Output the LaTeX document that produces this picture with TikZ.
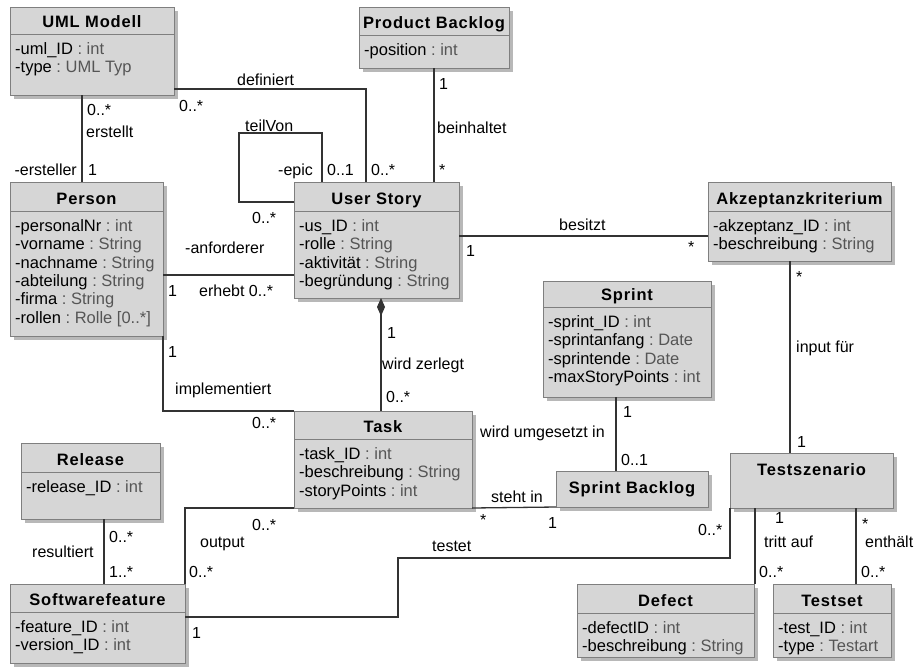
\documentclass[tikz,border=0pt]{standalone}
\usepackage{fontspec}
\setmainfont{Liberation Sans}
\usetikzlibrary{calc,shadows,arrows.meta}
\definecolor{boxfill}{HTML}{D6D6D6}
\definecolor{boxline}{HTML}{7F7F7F}
\definecolor{shadowc}{HTML}{B8B8B8}
\definecolor{linec}{HTML}{333333}
\definecolor{typec}{HTML}{555555}
\newcommand\ua[2]{#1\ \textcolor{typec}{:\ #2}}
\tikzset{
  classbox/.style={rectangle, anchor=north west, draw=boxline, fill=boxfill, line width=0.9pt,
    inner sep=0pt, outer sep=0pt,
    drop shadow={shadow xshift=4pt, shadow yshift=-4pt, fill=shadowc, opacity=1}},
  sepline/.style={draw=boxline, line width=0.9pt},
  classtitle/.style={anchor=base, inner sep=0pt, font=\fontsize{16.5}{18}\selectfont\bfseries\addfontfeature{LetterSpace=5}},
  attrtext/.style={anchor=base west, inner sep=0pt, font=\fontsize{16.5}{18}\selectfont},
  lbl/.style={anchor=base west, inner sep=0pt, font=\fontsize{16}{18}\selectfont},
  conn/.style={draw=linec, line width=1.3pt},
  connv/.style={draw=linec, line width=2pt},
}
\newcommand\umlclass[8]{%
  \node[classbox, minimum width={(#4-#2)*1pt}, minimum height={(#5-#3)*1pt}] (#1) at (#2,#3) {};
  \draw[sepline] ($(#1.north west)+(0,#6)$) -- ($(#1.north east)+(0,#6)$);
  \node[classtitle] (#1-title) at ($(#1.north)+(0,#6-7)$) {#7};
  \foreach \a [count=\i] in {#8} {
    \node[attrtext] (#1-a\i) at ($(#1.north west)+(5,#6+20.5+18.3*\i-18.3)$) {\a};
  }%
}
\begin{document}
\begin{tikzpicture}[x=1pt, y=-1pt]
\useasboundingbox[fill=white] (0,0) rectangle (917,667);

% classes
\umlclass{uml}{10}{7}{174}{95}{27}{UML Modell}{{\ua{-uml\_ID}{int}},{\ua{-type}{UML Typ}}}
\umlclass{pb}{359}{7}{509}{68}{28}{Product Backlog}{{\ua{-position}{int}}}
\umlclass{person}{10}{182}{163}{336}{29}{Person}{{\ua{-personalNr}{int}},{\ua{-vorname}{String}},{\ua{-nachname}{String}},{\ua{-abteilung}{String}},{\ua{-firma}{String}},{\ua{-rollen}{Rolle [0..*]}}}
\umlclass{us}{294}{182}{459}{298}{29}{User Story}{{\ua{-us\_ID}{int}},{\ua{-rolle}{String}},{\ua{-aktivität}{String}},{\ua{-begründung}{String}}}
\umlclass{ak}{708}{182}{891}{261}{29}{Akzeptanzkriterium}{{\ua{-akzeptanz\_ID}{int}},{\ua{-beschreibung}{String}}}
\umlclass{sprint}{543}{281}{711}{397}{26}{Sprint}{{\ua{-sprint\_ID}{int}},{\ua{-sprintanfang}{Date}},{\ua{-sprintende}{Date}},{\ua{-maxStoryPoints}{int}}}
\umlclass{task}{294}{411}{472}{508}{28}{Task}{{\ua{-task\_ID}{int}},{\ua{-beschreibung}{String}},{\ua{-storyPoints}{int}}}
\umlclass{release}{21}{443}{160}{519}{29}{Release}{{\ua{-release\_ID}{int}}}
\umlclass{sf}{10}{584}{185}{663}{28}{Softwarefeature}{{\ua{-feature\_ID}{int}},{\ua{-version\_ID}{int}}}
\umlclass{defect}{577}{584}{754}{657}{29}{Defect}{{\ua{-defectID}{int}},{\ua{-beschreibung}{String}}}
\umlclass{testset}{773}{584}{891}{657}{29}{Testset}{{\ua{-test\_ID}{int}},{\ua{-type}{Testart}}}

\node[classbox, minimum width=152pt, minimum height=36pt] (sb) at (556,471) {};
\node[classtitle] (sb-title) at ($(sb.north)+(0,22)$) {Sprint Backlog};
\node[classbox, minimum width=163pt, minimum height=55pt] (ts) at (730,453) {};
\node[classtitle] (ts-title) at ($(ts.north)+(0,22)$) {Testszenario};

% connectors
\draw[connv] (uml.south -| 82,0) -- (person.north -| 82,0);
\coordinate (def1) at (366,89);
\draw[conn] (uml.east |- def1) -- (def1) -- (us.north -| def1);
\draw[connv] (pb.south -| 434,0) -- (us.north -| 434,0);
\coordinate (loop1) at (239,202);
\coordinate (loop2) at (322,133);
\draw[conn] (us.west |- loop1) -- (loop1) |- (loop2) -- (us.north -| loop2);
\draw[conn] (person.east |- 0,275) -- (us.west |- 0,275);
\draw[conn] (person.south east) |- (task.north west);
\draw[connv, {Diamond[width=8pt,length=18pt,fill=linec]}-] (us.south -| 381,0) -- (task.north -| 381,0);
\draw[conn] (us.east |- 0,236) -- (ak.west |- 0,236);
\draw[connv] (ak.south -| 790,0) -- (ts.north -| 790,0);
\draw[connv] (sprint.south -| 616,0) -- (sb.north -| 616,0);
\draw[conn] (task.south east) -- (sb.south west);
\draw[conn] (task.south west) -| (sf.north east);
\coordinate (tt1) at (398,617);
\coordinate (tt2) at (398,558);
\draw[conn] (sf.east |- tt1) -- (tt1) -- (tt2) -| (ts.south west);
\draw[connv] (ts.south -| 755,0) -- (defect.north -| 755,0);
\draw[connv] (ts.south -| 856,0) -- (testset.north -| 856,0);
\draw[connv] (release.south -| 104,0) -- (sf.north -| 104,0);

% labels
\node[lbl] (l1) at (87,115) {0..*};
\node[lbl] (l2) at (86,137) {erstellt};
\node[lbl, anchor=base east] (l3) at (77,175) {-ersteller};
\node[lbl] (l4) at (88,175) {1};
\node[lbl] (l5) at (237,85) {definiert};
\node[lbl] (l6) at (179,111) {0..*};
\node[lbl] (l7) at (245,131) {teilVon};
\node[lbl] (l8) at (278,175) {-epic};
\node[lbl] (l9) at (327,175) {0..1};
\node[lbl] (l10) at (371,175) {0..*};
\node[lbl] (l11) at (439,89) {1};
\node[lbl] (l12) at (437,133) {beinhaltet};
\node[lbl] (l13) at (439,175) {*};
\node[lbl] (l14) at (252,223) {0..*};
\node[lbl] (l15) at (185,253) {-anforderer};
\node[lbl] (l16) at (168,296) {1};
\node[lbl] (l17) at (199,296) {erhebt 0..*};
\node[lbl] (l18) at (168,357) {1};
\node[lbl] (l19) at (175,394) {implementiert};
\node[lbl] (l20) at (252,428) {0..*};
\node[lbl] (l21) at (466,256) {1};
\node[lbl] (l22) at (387,338) {1};
\node[lbl] (l23) at (382,369) {wird zerlegt};
\node[lbl] (l24) at (386,402) {0..*};
\node[lbl] (l25) at (559,230) {besitzt};
\node[lbl] (l26) at (688,252) {*};
\node[lbl] (l27) at (796,282) {*};
\node[lbl] (l28) at (796,352) {input für};
\node[lbl] (l29) at (623,417) {1};
\node[lbl] (l30) at (480,437) {wird umgesetzt in};
\node[lbl] (l31) at (621,465) {0..1};
\node[lbl] (l32) at (797,447) {1};
\node[lbl] (l33) at (698,535) {0..*};
\node[lbl] (l34) at (775,523) {1};
\node[lbl] (l35) at (764,547) {tritt auf};
\node[lbl] (l36) at (759,577) {0..*};
\node[lbl] (l37) at (862,529) {*};
\node[lbl] (l38) at (865,547) {enthält};
\node[lbl] (l39) at (861,577) {0..*};
\node[lbl] (l40) at (491,502) {steht in};
\node[lbl] (l41) at (480,525) {*};
\node[lbl] (l42) at (548,528) {1};
\node[lbl] (l43) at (432,551) {testet};
\node[lbl] (l44) at (252,530) {0..*};
\node[lbl] (l45) at (200,547) {output};
\node[lbl] (l46) at (189,577) {0..*};
\node[lbl] (l47) at (109,542) {0..*};
\node[lbl] (l48) at (32,557) {resultiert};
\node[lbl] (l49) at (109,577) {1..*};
\node[lbl] (l50) at (192,638) {1};
\end{tikzpicture}
\end{document}
